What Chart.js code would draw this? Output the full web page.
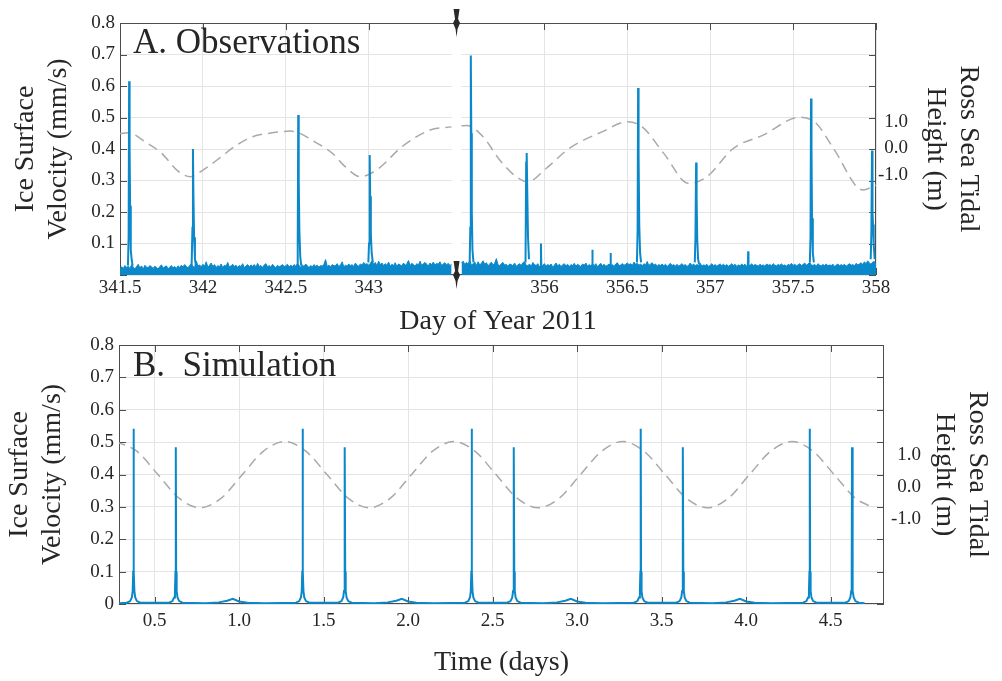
<!DOCTYPE html>
<html><head><meta charset="utf-8">
<script src="https://cdn.jsdelivr.net/npm/chart.js@4.4.1/dist/chart.umd.min.js"></script>
<style>
html,body{margin:0;padding:0;background:#fff;}
body{width:1002px;height:681px;position:relative;overflow:hidden;}
canvas{position:absolute;left:0;}
#cA{top:0;}
#cB{top:325px;}
</style></head><body>
<canvas id="cA" width="1002" height="340"></canvas>
<canvas id="cB" width="1002" height="356"></canvas>
<script>
// ---------------- DATA ----------------
const topTickDays = [341.5, 342, 342.5, 343, 356, 356.5, 357, 357.5, 358];
const velTicks = [0, 0.1, 0.2, 0.3, 0.4, 0.5, 0.6, 0.7, 0.8];
const tideTicks = [-1, 0, 1];
const simTicks = [0.5, 1.0, 1.5, 2.0, 2.5, 3.0, 3.5, 4.0, 4.5];

// Observed ice surface velocity (mm/s), background record sampled every 0.01 day
const obsStep = 0.01;
const obsLeftStart = 341.50;
const obsLeftVel = [
 .018,.026,.021,.030,.024,.028,.020,.033,.025,.019,
 .027,.034,.022,.029,.018,.031,.025,.023,.030,.026,
 .021,.028,.024,.019,.027,.032,.022,.026,.029,.020,
 .025,.030,.023,.027,.021,.029,.024,.031,.026,.033,
 .028,.022,.030,.036,.027,.024,.045,.029,.032,.026,
 .034,.028,.042,.025,.031,.038,.027,.033,.024,.030,
 .026,.035,.023,.031,.028,.040,.025,.029,.034,.027,
 .031,.024,.030,.027,.036,.023,.029,.033,.026,.032,
 .028,.033,.025,.037,.027,.030,.024,.032,.036,.026,
 .030,.025,.034,.028,.023,.031,.026,.029,.033,.027,
 .029,.034,.026,.031,.027,.033,.028,.036,.030,.025,
 .032,.027,.035,.029,.024,.030,.026,.033,.028,.031,
 .025,.030,.028,.034,.049,.027,.031,.026,.033,.029,
 .030,.036,.027,.032,.042,.026,.031,.028,.035,.029,
 .033,.027,.038,.030,.028,.035,.031,.040,.034,.036,
 .031,.037,.045,.034,.040,.029,.044,.033,.038,.030,
 .036,.031,.041,.028,.034,.030,.039,.027,.035,.032,
 .029,.038,.031,.035,.046,.030,.037,.033,.028,.036,
 .032,.044,.030,.036,.040,.034,.029,.038,.033,.041,
 .031,.037,.034,.042,.030,.035,.039,.032,.037,.030,
 .034
];
const obsRightStart = 355.50;
const obsRightVel = [
 .038,.044,.033,.040,.035,.046,.031,.036,.041,.030,
 .042,.032,.037,.045,.034,.039,.029,.035,.041,.032,
 .037,.052,.033,.029,.036,.040,.031,.034,.027,.035,
 .033,.029,.038,.028,.032,.036,.030,.039,.042,.031,
 .029,.035,.027,.040,.033,.030,.036,.026,.033,.030,
 .036,.028,.033,.030,.035,.025,.031,.038,.029,.034,
 .027,.032,.036,.029,.034,.026,.033,.030,.037,.028,
 .034,.030,.027,.035,.031,.038,.028,.033,.029,.035,
 .030,.036,.026,.032,.037,.029,.034,.028,.031,.035,
 .029,.033,.027,.035,.039,.029,.032,.036,.031,.034,
 .038,.033,.036,.030,.041,.034,.037,.031,.035,.029,
 .036,.032,.043,.030,.035,.039,.031,.035,.028,.033,
 .030,.035,.029,.034,.027,.032,.037,.030,.033,.028,
 .034,.028,.032,.036,.030,.033,.027,.031,.038,.030,
 .035,.029,.033,.031,.037,.028,.032,.030,.034,.027,
 .031,.036,.029,.033,.028,.032,.035,.030,.034,.029,
 .033,.028,.031,.036,.030,.034,.027,.032,.029,.035,
 .030,.034,.028,.032,.030,.036,.029,.033,.031,.028,
 .034,.030,.032,.028,.035,.031,.033,.029,.036,.031,
 .029,.033,.031,.035,.030,.032,.028,.034,.031,.037,
 .030,.034,.029,.032,.036,.030,.033,.038,.031,.035,
 .040,.032,.030,.034,.028,.036,.031,.029,.033,.030,
 .035,.029,.032,.030,.034,.027,.031,.035,.029,.033,
 .030,.034,.028,.032,.036,.031,.033,.029,.037,.032,
 .035,.039,.033,.042,.036,.045,.038,.034,.041,.043,
 .036
];
// Observed velocity events (day of year, mm/s)
const obsSpikeTimes = [
 [341.548,341.552,341.555,341.558,341.561,341.565,341.570,341.576],
 [341.932,341.937,341.940,341.943,341.947,341.952,341.958],
 [342.568,342.572,342.575,342.578,342.582,342.587,342.593],
 [342.998,343.002,343.006,343.009,343.013,343.018,343.025],
 [355.549,355.553,355.556,355.559,355.562,355.566,355.572],
 [355.886,355.890,355.892,355.894,355.897,355.901,355.907],
 [355.977,355.979,355.981],
 [356.287,356.289,356.291],
 [356.397,356.399,356.401],
 [356.558,356.562,356.565,356.568,356.572,356.577,356.583],
 [356.907,356.911,356.915,356.918,356.922,356.927,356.933],
 [357.227,357.229,357.231],
 [357.601,357.605,357.608,357.611,357.614,357.619,357.625],
 [357.968,357.972,357.976,357.979,357.982,357.986,357.992]
];
const obsSpikeVels = [
 [.03,.12,.615,.40,.22,.08,.05,.03],
 [.03,.15,.40,.25,.12,.05,.03],
 [.03,.10,.508,.30,.14,.06,.03],
 [.04,.10,.381,.25,.13,.07,.04],
 [.04,.15,.697,.45,.20,.08,.04],
 [.04,.36,.30,.387,.25,.12,.05],
 [.03,.10,.03],
 [.03,.08,.03],
 [.03,.07,.03],
 [.04,.14,.594,.38,.16,.07,.04],
 [.04,.12,.357,.24,.11,.05,.035],
 [.03,.075,.03],
 [.04,.12,.56,.40,.18,.07,.04],
 [.05,.13,.395,.20,.16,.10,.05]
];
// Ross Sea tidal height (m), observation period
const tideLeftTime = [341.50,341.55,341.65,341.75,341.85,341.925,342.00,342.10,342.19,342.30,342.39,342.53,342.69,342.78,342.86,342.95,343.06,343.20,343.37,343.50];
const tideLeftHeight = [.55,.58,.24,-.19,-.87,-1.08,-.83,-.38,.05,.43,.55,.64,.18,-.19,-.71,-1.08,-.77,.05,.68,.80];
const tideRightTime = [355.50,355.53,355.63,355.73,355.83,355.90,356.01,356.15,356.35,356.50,356.59,356.72,356.87,356.98,357.14,357.32,357.54,357.64,357.75,357.92,358.00];
const tideRightHeight = [.84,.85,.43,-.45,-1.08,-1.27,-.77,-.01,.62,.99,.80,-.20,-1.33,-1.08,-.01,.49,1.16,.93,-.08,-1.58,-1.40];

// Simulation: time (days) and ice surface velocity (mm/s)
const simTime = [0.29,
 0.336,0.356,0.366,0.371,0.374,0.376,0.378,0.381,0.386,0.396,0.416,
 0.586,0.606,0.616,0.621,0.624,0.626,0.628,0.631,0.636,0.646,0.666,
 0.80,0.88,0.93,0.963,1.00,1.05,1.15,
 1.336,1.356,1.366,1.371,1.374,1.376,1.378,1.381,1.386,1.396,1.416,
 1.586,1.606,1.616,1.621,1.624,1.626,1.628,1.631,1.636,1.646,1.666,
 1.80,1.88,1.93,1.963,2.00,2.05,2.15,
 2.336,2.356,2.366,2.371,2.374,2.376,2.378,2.381,2.386,2.396,2.416,
 2.586,2.606,2.616,2.621,2.624,2.626,2.628,2.631,2.636,2.646,2.666,
 2.80,2.88,2.93,2.963,3.00,3.05,3.15,
 3.336,3.356,3.366,3.371,3.374,3.376,3.378,3.381,3.386,3.396,3.416,
 3.586,3.606,3.616,3.621,3.624,3.626,3.628,3.631,3.636,3.646,3.666,
 3.80,3.88,3.93,3.963,4.00,4.05,4.15,
 4.336,4.356,4.366,4.371,4.374,4.376,4.378,4.381,4.386,4.396,4.416,
 4.586,4.606,4.616,4.621,4.624,4.626,4.628,4.631,4.636,4.646,4.666,
 4.70];
const simVel = [0.002,
 .004,.009,.020,.040,.10,.541,.10,.040,.020,.009,.004,
 .004,.009,.020,.040,.10,.484,.10,.040,.020,.009,.004,
 .002,.005,.010,.016,.008,.004,.002,
 .004,.009,.020,.040,.10,.541,.10,.040,.020,.009,.004,
 .004,.009,.020,.040,.10,.484,.10,.040,.020,.009,.004,
 .002,.005,.010,.016,.008,.004,.002,
 .004,.009,.020,.040,.10,.541,.10,.040,.020,.009,.004,
 .004,.009,.020,.040,.10,.484,.10,.040,.020,.009,.004,
 .002,.005,.010,.016,.008,.004,.002,
 .004,.009,.020,.040,.10,.541,.10,.040,.020,.009,.004,
 .004,.009,.020,.040,.10,.484,.10,.040,.020,.009,.004,
 .002,.005,.010,.016,.008,.004,.002,
 .004,.009,.020,.040,.10,.541,.10,.040,.020,.009,.004,
 .004,.009,.020,.040,.10,.484,.10,.040,.020,.009,.004,
 0.002];
// Simulation tidal forcing (m)
const simTideTime = [0.27,0.395,0.52,0.645,0.77,0.895,1.02,1.145,
 1.27,1.395,1.52,1.645,1.77,1.895,2.02,2.145,
 2.27,2.395,2.52,2.645,2.77,2.895,3.02,3.145,
 3.27,3.395,3.52,3.645,3.77,3.895,4.02,4.145,
 4.27,4.395,4.52,4.645,4.75];
const simTideHeight = [1.42,1.12,0.39,-0.35,-0.65,-0.35,0.39,1.12,
 1.42,1.12,0.39,-0.35,-0.65,-0.35,0.39,1.12,
 1.42,1.12,0.39,-0.35,-0.65,-0.35,0.39,1.12,
 1.42,1.12,0.39,-0.35,-0.65,-0.35,0.39,1.12,
 1.42,1.12,0.39,-0.35,-0.64];

// ---------------- STYLE / LAYOUT ----------------
const BLUE = '#0a88c9';
const TIDE = '#a9a9a9';
const GRID = '#e4e4e4';
const INK = '#262626';
const SERIF = "'Liberation Serif','DejaVu Serif',serif";
Chart.defaults.font.family = SERIF;
Chart.defaults.color = INK;

// broken time axis: compress the gap between the two observation windows
const breakLeftDay = 343.50, breakRightDay = 355.50, breakGapDays = 0.06;
const shiftDays = breakRightDay - breakLeftDay - breakGapDays;
const cx = t => (t >= breakRightDay - 1e-9 ? t - shiftDays : t);

const panelPlugin = {
  id: 'panel',
  beforeDatasetsDraw(chart, args, o) {
    const {ctx, chartArea: a, scales} = chart;
    ctx.save();
    if (o.gap) {
      const x0 = scales.x.getPixelForValue(o.gap[0]);
      const x1 = scales.x.getPixelForValue(o.gap[1]);
      ctx.fillStyle = '#fff';
      ctx.fillRect(x0, a.top + 1, x1 - x0, a.bottom - a.top - 1);
    }
    ctx.strokeStyle = '#4d4d4d';
    ctx.lineWidth = 1;
    ctx.strokeRect(a.left + 0.5, a.top + 0.5, a.right - a.left - 1, a.bottom - a.top - 1);
    ctx.beginPath();
    scales.y.ticks.forEach(t => {
      const y = Math.round(scales.y.getPixelForValue(t.value)) + 0.5;
      ctx.moveTo(a.left, y); ctx.lineTo(a.left + 7, y);
      ctx.moveTo(a.right, y); ctx.lineTo(a.right - 7, y);
    });
    scales.x.ticks.forEach(t => {
      const x = Math.round(scales.x.getPixelForValue(t.value)) + 0.5;
      ctx.moveTo(x, a.top); ctx.lineTo(x, a.top + 7);
      ctx.moveTo(x, a.bottom); ctx.lineTo(x, a.bottom - 7);
    });
    ctx.stroke();
    ctx.restore();
  },
  afterDatasetsDraw(chart, args, o) {
    const {ctx, chartArea: a, scales} = chart;
    ctx.save();
    ctx.fillStyle = INK;
    ctx.font = '35px ' + SERIF;
    ctx.textBaseline = 'alphabetic';
    ctx.textAlign = 'left';
    ctx.fillText(o.label, a.left + o.dx, a.top + o.dy);
    if (o.breakAt !== undefined) {
      const x = scales.x.getPixelForValue(o.breakAt);
      const shape = [[-3,-14],[3,-14],[1.5,-4],[3.5,0],[1,6],[0,14],[-1,6],[-3.5,0],[-1.5,-4]];
      ctx.fillStyle = '#2a2a2a';
      [a.top, a.bottom].forEach(y => {
        ctx.beginPath();
        shape.forEach((p, i) => i ? ctx.lineTo(x + p[0], y + p[1]) : ctx.moveTo(x + p[0], y + p[1]));
        ctx.closePath();
        ctx.fill();
      });
    }
    ctx.restore();
  }
};

const tickFont = {size: 19};
const titleFont = {size: 28, lineHeight: 1.15};
const tideDash = [10, 6];

// ---------------- PANEL A ----------------
const baseData = [];
obsLeftVel.forEach((v, i) => baseData.push({x: cx(obsLeftStart + i * obsStep), y: v}));
baseData.push({x: cx(breakLeftDay) + breakGapDays / 2, y: null});
obsRightVel.forEach((v, i) => baseData.push({x: cx(obsRightStart + i * obsStep), y: v}));

const spikeData = [];
obsSpikeTimes.forEach((ts, k) => {
  ts.forEach((t, j) => spikeData.push({x: cx(t), y: obsSpikeVels[k][j]}));
  spikeData.push({x: cx(ts[ts.length - 1]) + 0.0005, y: null});
});

const tideTopData = [];
tideLeftTime.forEach((t, i) => tideTopData.push({x: cx(t), y: tideLeftHeight[i]}));
tideTopData.push({x: cx(breakLeftDay) + breakGapDays / 2, y: null});
tideRightTime.forEach((t, i) => tideTopData.push({x: cx(t), y: tideRightHeight[i]}));

new Chart(document.getElementById('cA'), {
  type: 'line',
  data: {datasets: [
    {data: baseData, borderColor: BLUE, backgroundColor: BLUE, borderWidth: 1, fill: 'origin',
     pointRadius: 0, tension: 0, spanGaps: false, yAxisID: 'y'},
    {data: spikeData, borderColor: BLUE, borderWidth: 2, fill: false,
     pointRadius: 0, tension: 0, spanGaps: false, yAxisID: 'y'},
    {data: tideTopData, borderColor: TIDE, borderWidth: 1.5, borderDash: tideDash, fill: false,
     pointRadius: 0, cubicInterpolationMode: 'monotone', spanGaps: false, yAxisID: 'y2'}
  ]},
  options: {
    responsive: false, animation: false, devicePixelRatio: 1, events: [],
    layout: {padding: {top: 23, left: 0, right: 0, bottom: 0}},
    plugins: {legend: {display: false}, tooltip: {enabled: false},
      panel: {label: 'A. Observations', dx: 13, dy: 30, gap: [cx(breakLeftDay), cx(breakRightDay)],
              breakAt: cx(breakLeftDay) + breakGapDays / 2}},
    scales: {
      x: {type: 'linear', position: 'bottom', min: topTickDays[0], max: cx(topTickDays[topTickDays.length - 1]),
        afterBuildTicks: s => { s.ticks = topTickDays.map(d => ({value: cx(d)})); },
        afterFit: s => { s.height = 65; },
        ticks: {font: tickFont, padding: 2, maxRotation: 0, autoSkip: false,
          callback: (v, i) => String(topTickDays[i])},
        grid: {color: GRID, drawTicks: false}, border: {display: false},
        title: {display: true, text: 'Day of Year 2011', font: titleFont, padding: {top: 0, bottom: 2}}},
      y: {type: 'linear', position: 'left', min: 0, max: 0.8,
        afterBuildTicks: s => { s.ticks = velTicks.map(v => ({value: v})); },
        afterFit: s => { s.width = 120; },
        ticks: {font: tickFont, padding: 5, callback: v => (v === 0 ? '' : v.toFixed(1))},
        grid: {color: GRID, drawTicks: false}, border: {display: false},
        title: {display: true, text: ['Ice Surface', 'Velocity (mm/s)'], font: titleFont, padding: {top: 10, bottom: 0}}},
      y2: {type: 'linear', position: 'right', weight: 0, min: -4.79, max: 4.72,
        afterBuildTicks: s => { s.ticks = tideTicks.map(v => ({value: v})); },
        afterFit: s => { s.width = 32; },
        ticks: {font: tickFont, padding: 2, crossAlign: 'far', callback: v => v.toFixed(1)},
        grid: {display: false, drawTicks: false}, border: {display: false}},
      y3: {type: 'linear', position: 'right', weight: 1, display: true, min: 0, max: 1,
        afterFit: s => { s.width = 94; },
        ticks: {display: false}, grid: {display: false, drawTicks: false}, border: {display: false},
        title: {display: true, text: ['Ross Sea Tidal', 'Height (m)'], font: titleFont, padding: {top: 18, bottom: 0}}}
    }
  },
  plugins: [panelPlugin]
});

// ---------------- PANEL B ----------------
const simData = simTime.map((t, i) => ({x: t, y: simVel[i]}));
const simTideData = simTideTime.map((t, i) => ({x: t, y: simTideHeight[i]}));

new Chart(document.getElementById('cB'), {
  type: 'line',
  data: {datasets: [
    {data: simData, borderColor: BLUE, borderWidth: 2, fill: false, pointRadius: 0, tension: 0, yAxisID: 'y'},
    {data: simTideData, borderColor: TIDE, borderWidth: 1.5, borderDash: tideDash, fill: false,
     pointRadius: 0, cubicInterpolationMode: 'monotone', yAxisID: 'y2'}
  ]},
  options: {
    responsive: false, animation: false, devicePixelRatio: 1, events: [],
    layout: {padding: {top: 20, left: 0, right: 0, bottom: 0}},
    plugins: {legend: {display: false}, tooltip: {enabled: false},
      panel: {label: 'B.  Simulation', dx: 14, dy: 31}},
    scales: {
      x: {type: 'linear', position: 'bottom', min: 0.29, max: 4.815,
        afterBuildTicks: s => { s.ticks = simTicks.map(v => ({value: v})); },
        afterFit: s => { s.height = 77; },
        ticks: {font: tickFont, padding: 6, maxRotation: 0, autoSkip: false, callback: v => v.toFixed(1)},
        grid: {color: GRID, drawTicks: false}, border: {display: false},
        title: {display: true, text: 'Time (days)', font: titleFont, padding: {top: 0, bottom: 2}}},
      y: {type: 'linear', position: 'left', min: 0, max: 0.8,
        afterBuildTicks: s => { s.ticks = velTicks.map(v => ({value: v})); },
        afterFit: s => { s.width = 119; },
        ticks: {font: tickFont, padding: 5, callback: v => (v === 0 ? '0' : v.toFixed(1))},
        grid: {color: GRID, drawTicks: false}, border: {display: false},
        title: {display: true, text: ['Ice Surface', 'Velocity (mm/s)'], font: titleFont, padding: {top: 4, bottom: 0}}},
      y2: {type: 'linear', position: 'right', weight: 0, min: -3.66, max: 4.44,
        afterBuildTicks: s => { s.ticks = tideTicks.map(v => ({value: v})); },
        afterFit: s => { s.width = 37; },
        ticks: {font: tickFont, padding: 7, crossAlign: 'far', callback: v => v.toFixed(1)},
        grid: {display: false, drawTicks: false}, border: {display: false}},
      y3: {type: 'linear', position: 'right', weight: 1, display: true, min: 0, max: 1,
        afterFit: s => { s.width = 81; },
        ticks: {display: false}, grid: {display: false, drawTicks: false}, border: {display: false},
        title: {display: true, text: ['Ross Sea Tidal', 'Height (m)'], font: titleFont, padding: {top: 9, bottom: 0}}}
    }
  },
  plugins: [panelPlugin]
});
</script>
</body></html>
